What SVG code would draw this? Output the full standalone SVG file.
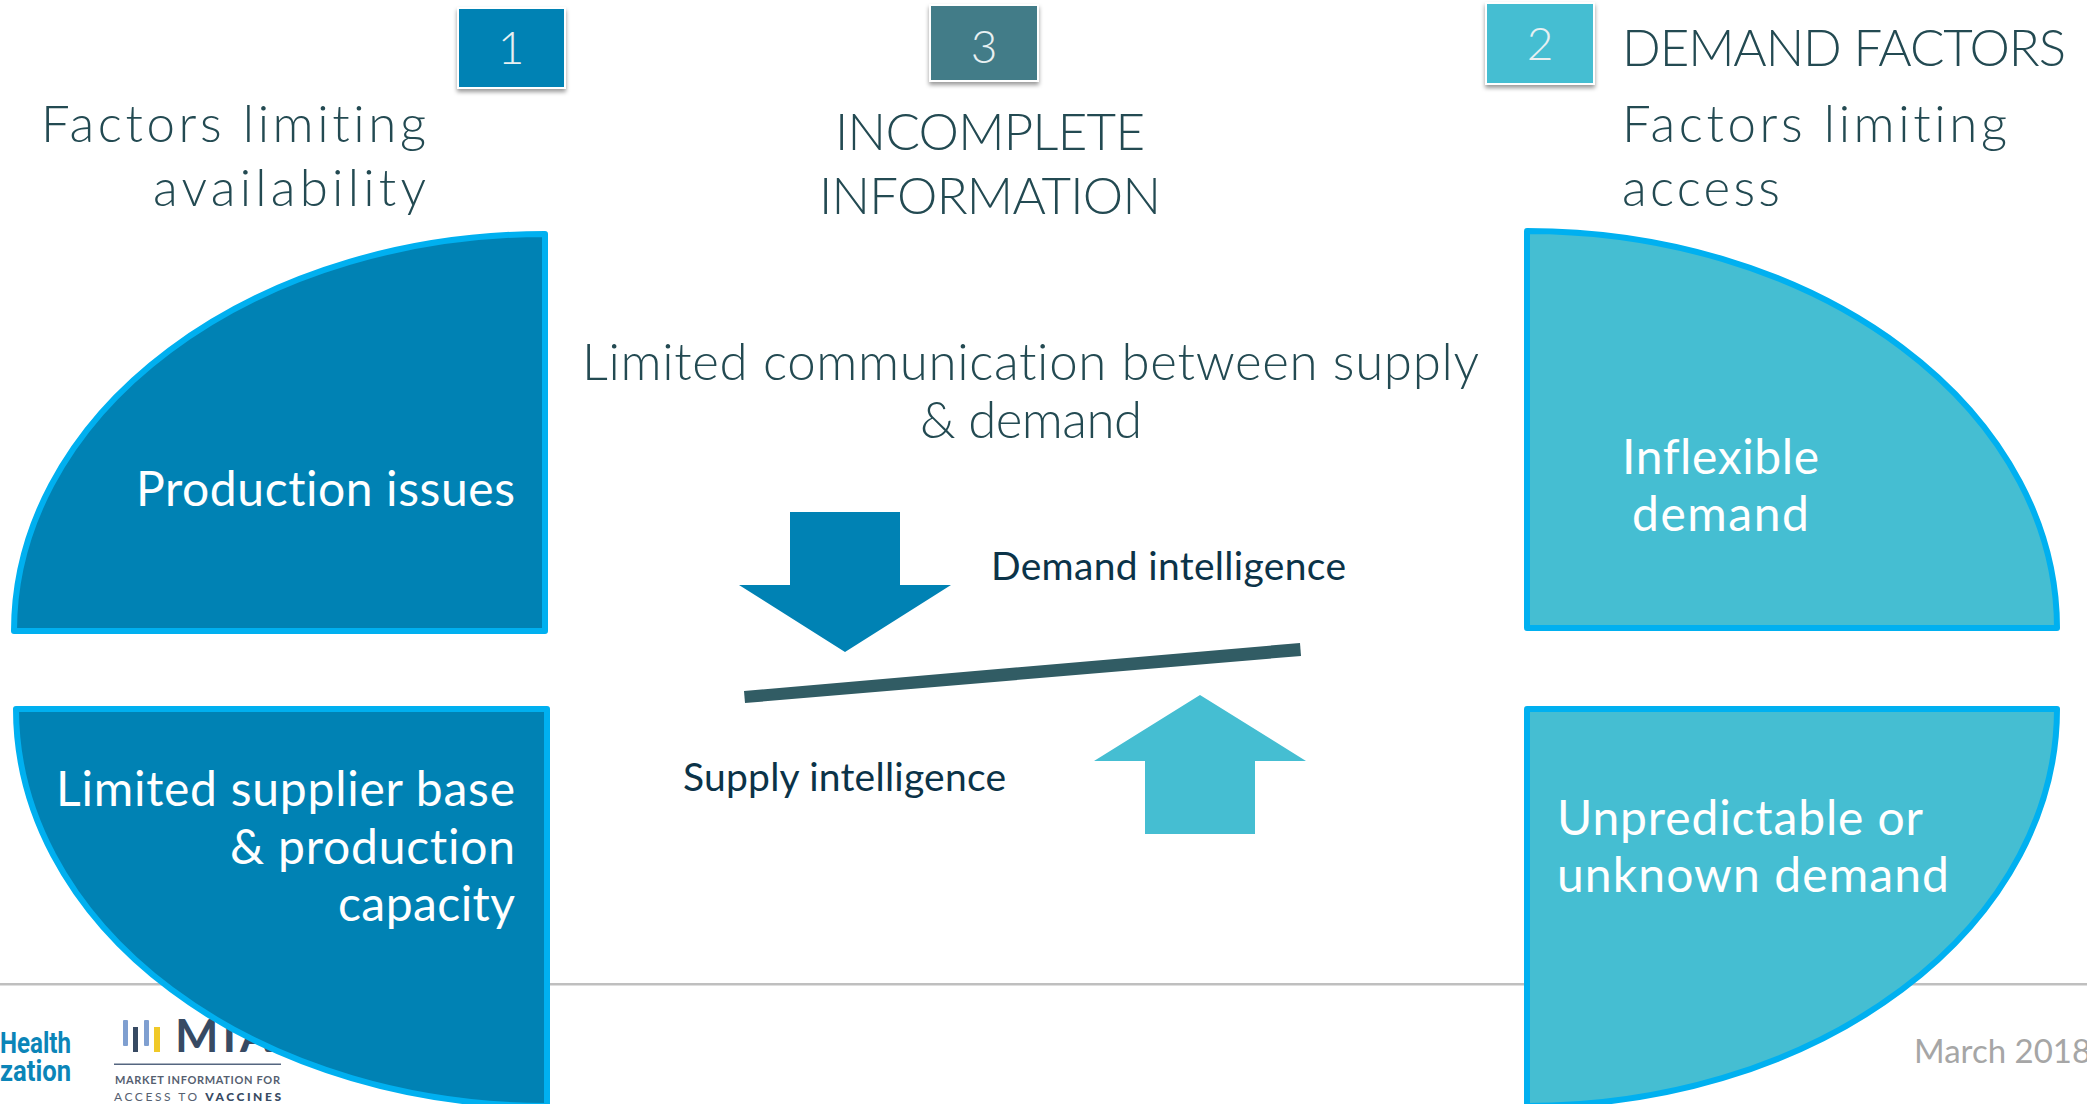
<svg xmlns="http://www.w3.org/2000/svg" width="2087" height="1104" viewBox="0 0 2087 1104">
<defs>
<filter id="sh" x="-20%" y="-20%" width="140%" height="140%"><feDropShadow dx="0" dy="3" stdDeviation="2" flood-color="#000" flood-opacity="0.4"/></filter>
</defs>
<style>
text{font-variant-ligatures:none}
.h{font-family:Lato,"Liberation Sans",sans-serif;font-weight:300;font-size:51px;fill:#234a52}
.b{font-family:Lato,"Open Sans",sans-serif;font-size:48px;fill:#fff}
.m{font-family:Lato,"Open Sans",sans-serif;font-size:39px;fill:#0b3348}
.n{font-family:Lato,sans-serif;font-weight:300;font-size:46px;fill:#e8f0f2;text-anchor:middle}
.q{stroke:#00b0f0;stroke-width:6;stroke-linejoin:round}
.d{fill:#0082b4}.t{fill:#45bed2}
.box{stroke:#fff;stroke-width:2;filter:url(#sh)}
</style>
<rect width="2087" height="1104" fill="#fff"/>
<g id="footer">
<rect x="0" y="983" width="2087" height="2.5" fill="#bfbfbf"/>
<text x="1914" y="1063" font-family="Lato,sans-serif" font-size="33" fill="#a6a6a6">March 2018</text>
<g font-family="Roboto,sans-serif" font-weight="700" fill="#0b85b8" font-size="29">
<text x="0" y="1053" textLength="71" lengthAdjust="spacingAndGlyphs">Health</text>
<text x="0" y="1081" textLength="71" lengthAdjust="spacingAndGlyphs">zation</text>
</g>
<rect x="123" y="1020" width="5" height="26" rx="1" fill="#7f9fd0"/><rect x="133" y="1027" width="5" height="25" fill="#374a63"/><rect x="144" y="1020" width="5" height="26" rx="1" fill="#7f9fd0"/><rect x="154" y="1027" width="6" height="25" fill="#f0c928"/>
<text x="175" y="1052" font-family="Lato,sans-serif" font-weight="700" font-size="46" letter-spacing="4" fill="#374a63">MIA</text>
<rect x="114" y="1063.5" width="167" height="1.5" fill="#556680"/>
<text x="115" y="1084" font-family="Lato,sans-serif" font-weight="700" font-size="11" fill="#556070" textLength="165">MARKET INFORMATION FOR</text>
<text x="114" y="1101" font-family="Lato,sans-serif" font-size="12" fill="#556070" textLength="167">ACCESS TO <tspan font-weight="900" fill="#374a63">VACCINES</tspan></text>
</g>
<g id="q1"><path class="q d" d="M14 631A531 397 0 0 1 545 234V631Z"/><text class="b" x="136" y="506" textLength="379">Production issues</text></g>
<g id="q4"><path class="q d" d="M16 709H547V1106A531 397 0 0 1 16 709Z"/><text class="b"><tspan x="56" y="806" textLength="459">Limited supplier base</tspan><tspan x="230" y="864" textLength="285">&amp; production</tspan><tspan x="338" y="921" textLength="177">capacity</tspan></text></g>
<g id="q2"><path class="q t" d="M1527 231A530 397 0 0 1 2057 628H1527Z"/><text class="b"><tspan x="1622" y="474" textLength="197">Inflexible</tspan><tspan x="1632" y="531" textLength="177">demand</tspan></text></g>
<g id="q3"><path class="q t" d="M1527 709H2057A530 397 0 0 1 1527 1106Z"/><text class="b"><tspan x="1557" y="835" textLength="366">Unpredictable or</tspan><tspan x="1557" y="892" textLength="392">unknown demand</tspan></text></g>
<g id="b1"><rect class="box d" x="458" y="8" width="107" height="80"/><text class="n" x="511" y="64">1</text></g>
<g id="b3"><rect class="box" fill="#427c88" x="930" y="5" width="108" height="76"/><text class="n" x="984" y="63">3</text></g>
<g id="b2"><rect class="box t" x="1486" y="3" width="108" height="81"/><text class="n" x="1540" y="60">2</text></g>
<g id="headings">
<text class="h"><tspan x="41" y="142" textLength="385">Factors limiting</tspan><tspan x="153" y="206" textLength="273">availability</tspan></text>
<text class="h"><tspan x="835" y="150" textLength="310">INCOMPLETE</tspan><tspan x="819" y="214" textLength="342">INFORMATION</tspan></text>
<text class="h" x="1622" y="66" textLength="444">DEMAND FACTORS</text>
<text class="h"><tspan x="1622" y="142" textLength="385">Factors limiting</tspan><tspan x="1622" y="206" textLength="158">access</tspan></text>
<text class="h"><tspan x="582" y="380" textLength="897">Limited communication between supply</tspan><tspan x="920" y="438" textLength="222">&amp; demand</tspan></text>
</g>
<g id="arrows">
<path class="d" d="M790 512H900V585H951L845 652L739 585H790Z"/>
<path class="t" d="M1145 834H1255V761H1306L1200 695L1094 761H1145Z"/>
<path fill="#315c64" d="M744 691L1300 643L1301 656L745 703Z"/>
</g>
<g id="labels"><text class="m" x="991" y="580" textLength="355">Demand intelligence</text><text class="m" x="683" y="791" textLength="323">Supply intelligence</text></g>
</svg>
